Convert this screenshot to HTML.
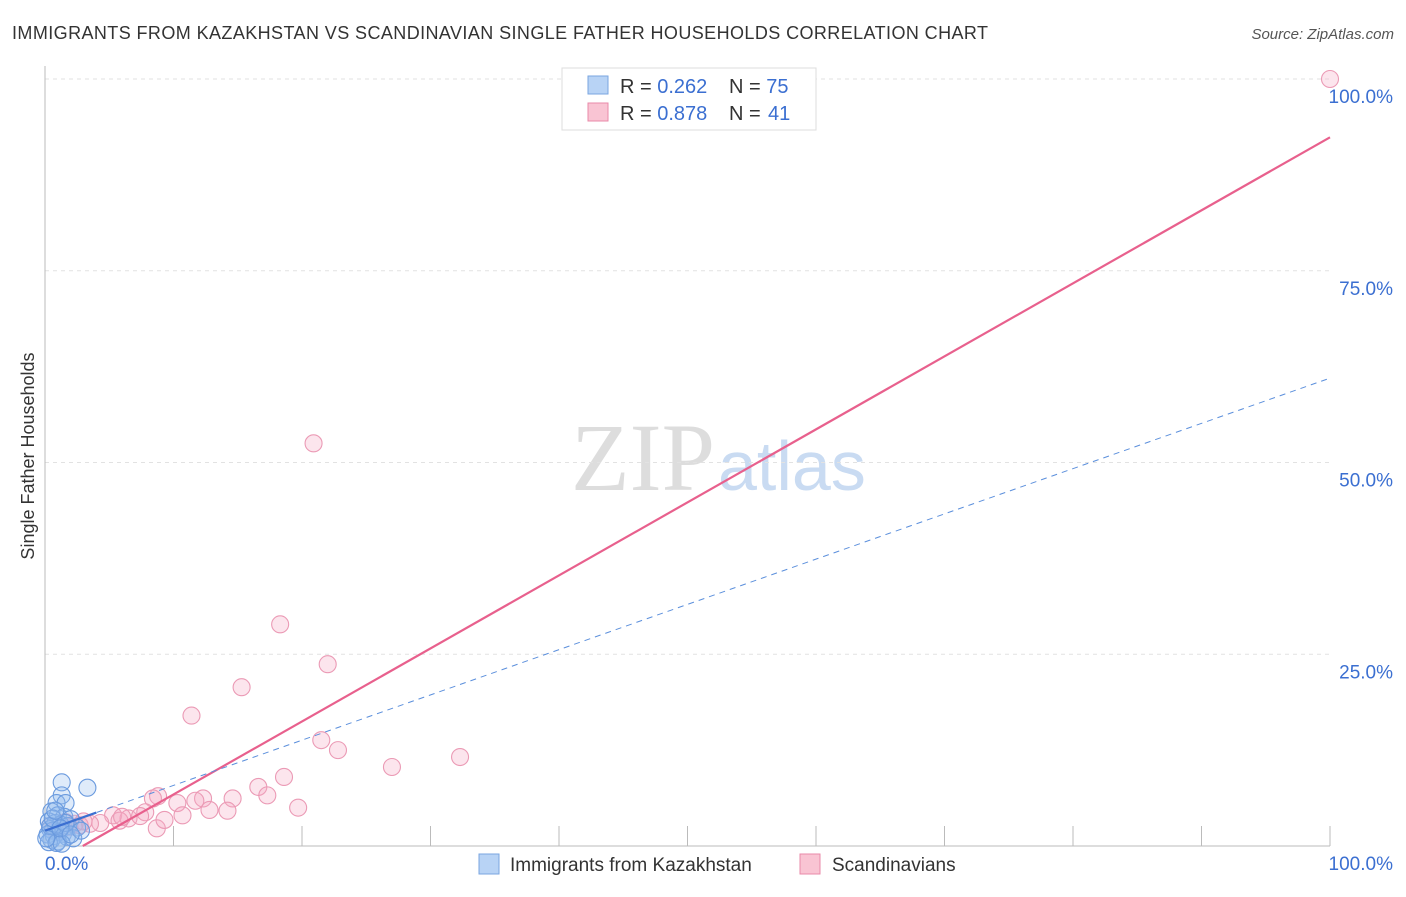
<!DOCTYPE html>
<html><head><meta charset="utf-8"><style>
body{margin:0;background:#fff;font-family:"Liberation Sans",sans-serif;}
</style></head><body>
<svg id="c" width="1406" height="892" xmlns="http://www.w3.org/2000/svg">
<text x="12" y="39" font-size="18" fill="#333" textLength="976">IMMIGRANTS FROM KAZAKHSTAN VS SCANDINAVIAN SINGLE FATHER HOUSEHOLDS CORRELATION CHART</text>
<text x="1394" y="39" font-size="15" fill="#555" font-style="italic" text-anchor="end">Source: ZipAtlas.com</text>
<text x="34" y="456" font-size="18" fill="#333" transform="rotate(-90 34 456)" text-anchor="middle">Single Father Households</text>
<text x="715" y="490" font-size="96" fill="#ddd" text-anchor="end" font-family="Liberation Serif,serif">ZIP</text>
<text x="718" y="490" font-size="70" fill="#c9dbf2">atlas</text>
<g id="grid"></g><g id="pts"></g><g id="lines"></g>
<g>
<rect x="562" y="68" width="254" height="62" fill="#fff" stroke="#ddd"/>
<rect x="588" y="76" width="20" height="18" fill="#b8d3f5" stroke="#7aa6e0"/>
<rect x="588" y="103" width="20" height="18" fill="#f9c4d3" stroke="#e98aa8"/>
<text x="620" y="93" font-size="20" fill="#333">R = <tspan fill="#3b6fd1">0.262</tspan></text>
<text x="729" y="93" font-size="20" fill="#333">N = <tspan fill="#3b6fd1">75</tspan></text>
<text x="620" y="120" font-size="20" fill="#333">R = <tspan fill="#3b6fd1">0.878</tspan></text>
<text x="729" y="120" font-size="20" fill="#333">N = <tspan x="768" fill="#3b6fd1">41</tspan></text>
</g>
<g>
<rect x="479" y="854" width="20" height="20" fill="#b8d3f5" stroke="#7aa6e0"/>
<text x="510" y="871" font-size="19" fill="#333">Immigrants from Kazakhstan</text>
<rect x="800" y="854" width="20" height="20" fill="#f9c4d3" stroke="#e98aa8"/>
<text x="832" y="871" font-size="19" fill="#333">Scandinavians</text>
</g>
</svg>
<script>
const yTicks=[25,50,75,100];
const yTickLabels=["25.0%","50.0%","75.0%","100.0%"];
const xTickLabels=["0.0%","100.0%"];
const blueX=[1.3,3.3,1.3,0.9,1.6,0.5,1.0,1.5,2.0,0.3,0.8,1.2,1.8,2.5,0.4,0.6,1.1,1.4,0.2,0.7,1.7,2.2,0.5,1.0,0.3,0.9,1.3,2.8,0.4,1.6,0.1,0.6,1.2,2.0,0.8];
const blueY=[8.3,7.6,6.6,5.6,5.6,4.5,4.0,3.8,3.5,3.2,3.0,2.8,2.6,2.4,2.2,2.0,1.8,1.6,1.5,1.3,1.2,1.0,0.8,0.6,0.5,0.4,0.3,2.0,2.6,3.0,1.0,3.6,2.3,1.5,4.6];
const pinkX=[100,20.9,18.3,22,15.3,11.4,21.5,22.8,32.3,27,18.6,16.6,17.3,19.7,14.6,12.3,8.8,8.4,10.3,11.7,12.8,10.7,14.2,8.7,9.3,7.8,5.3,6.5,7.4,5.8,4.3,3.5,2.7,1.9,1.2,0.8,1.6,0.4,2.3,3.0,6.0];
const pinkY=[100,52.5,28.9,23.7,20.7,17,13.8,12.5,11.6,10.3,9,7.7,6.6,5,6.2,6.2,6.5,6.2,5.6,5.9,4.7,4.0,4.6,2.3,3.4,4.4,4.0,3.6,3.9,3.3,3.0,2.9,2.7,2.5,2.2,2.0,3.1,2.6,2.9,3.2,3.8];
const pinkFit=[-2.8,92.4];
const blueFit=[2.0,61.0];
const sx=v=>45+v*12.85, sy=v=>846-v*7.67;
const NS="http://www.w3.org/2000/svg";
function mk(t,a,p){const e=document.createElementNS(NS,t);for(const k in a)e.setAttribute(k,a[k]);document.getElementById(p).appendChild(e);return e;}
yTicks.forEach((v,i)=>{
 const l=mk('line',{x1:45,x2:1330,y1:sy(v),y2:sy(v),stroke:'#e2e2e2','stroke-dasharray':'4,4'},'grid');
 
 
 const t=mk('text',{x:1393,y:sy(v)+24,'font-size':19,fill:'#3b6fd1','text-anchor':'end'},'grid');
 t.textContent=yTickLabels[i];
 
 
});
const ax=mk('line',{x1:45,x2:45,y1:66,y2:846,stroke:'#bbb'},'grid');


const bx=mk('line',{x1:45,x2:1330,y1:846,y2:846,stroke:'#bbb'},'grid');


for(let i=1;i<=10;i++){const tk=mk('line',{x1:45+i*128.5,x2:45+i*128.5,y1:826,y2:846,stroke:'#bbb'},'grid');
 
 }
[[0,45,'start'],[100,1393,'end']].forEach((d,i)=>{const t=mk('text',{x:d[1],y:870,'font-size':19,fill:'#3b6fd1','text-anchor':d[2]},'grid');t.textContent=xTickLabels[i];
 
 });
pinkX.forEach((x,i)=>{const c=mk('circle',{cx:sx(x),cy:sy(pinkY[i]),r:8.5,fill:'rgba(246,170,195,0.3)',stroke:'#eb9ab5','stroke-width':1.1},'pts');
 
 });
blueX.forEach((x,i)=>{const c=mk('circle',{cx:sx(x),cy:sy(blueY[i]),r:8.5,fill:'rgba(150,190,240,0.3)',stroke:'#6a9ade','stroke-width':1.1},'pts');
 
 });
const x0=-pinkFit[0]/((pinkFit[1]-pinkFit[0])/100);
const pl=mk('line',{x1:sx(x0),y1:sy(0),x2:sx(100),y2:sy(pinkFit[1]),stroke:'#e8608d','stroke-width':2.2},'lines');


const bl=mk('line',{x1:sx(0),y1:sy(blueFit[0]),x2:sx(100),y2:sy(blueFit[1]),stroke:'#5b8fdc','stroke-width':1,'stroke-dasharray':'6,5'},'lines');


const bs=mk('line',{x1:sx(0),y1:sy(blueFit[0]),x2:sx(4),y2:sy(blueFit[0]+(blueFit[1]-blueFit[0])*0.04),stroke:'#3b6fd1','stroke-width':2.2},'lines');


</script>
</body></html>
